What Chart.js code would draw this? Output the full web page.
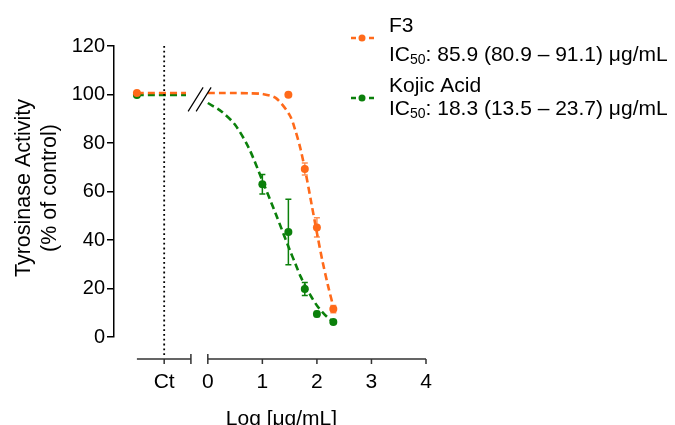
<!DOCTYPE html>
<html lang="en">
<head>
  <meta charset="utf-8">
  <title>Tyrosinase Activity</title>
  <script src="https://cdn.jsdelivr.net/npm/chart.js"></script>
  <style>
    html, body { margin: 0; padding: 0; background: #fff; }
    canvas { display: block; }
  </style>
</head>
<body>
<canvas id="tyrChart" width="675" height="425"></canvas>
<script>
// data
const seriesNames = ['F3', 'Kojic Acid'];
const ic50Text = ['85.9 (80.9 – 91.1) μg/mL', '18.3 (13.5 – 23.7) μg/mL'];
const ctLabel = 'Ct';
const ctX = -1.3;            // where the control points sit on the left piece
const ctTickX = -0.8;        // Ct tick
const ctAxisEnd = -0.31;
const ctLineEnd = -0.4;
const xTicks = [0, 1, 2, 3, 4];
const yTicks = [0, 20, 40, 60, 80, 100, 120];

const f3Ct = 100.6;
const kojicCt = 99.8;

const f3X = [1.477, 1.778, 2.0, 2.301];
const f3Y = [99.9, 69.3, 45.2, 11.5];
const f3Err = [0, 2.5, 4, 1.5];

const kojicX = [1.0, 1.477, 1.778, 2.0, 2.301];
const kojicY = [63.0, 43.3, 19.8, 9.5, 6.2];
const kojicErr = [4, 13.5, 2.7, 1, 0.6];

// fitted curves
const curveX = [0, 0.25, 0.5, 0.75, 1, 1.25, 1.5, 1.6, 1.7, 1.8, 1.9, 2.0, 2.1, 2.2, 2.3];
const f3Curve = [100.6, 100.6, 100.6, 100.5, 100.2, 98.5, 91.5, 85.5, 77.5, 67, 55, 43, 31.5, 21.5, 12.5];
const kojicCurve = [96.5, 93, 87.5, 78, 64.5, 50.5, 36, 30.5, 25, 20.5, 16.5, 13, 10.3, 8, 6.2];

const ORANGE = '#ff6a1a';
const GREEN = '#0b800b';
const FONT = "'Liberation Sans', Arial, sans-serif";

const pts = (xs, ys) => xs.map((v, i) => ({ x: v, y: ys[i] }));

const curveStyle = (color) => ({
  showLine: true, borderColor: color, borderWidth: 2.6, borderDash: [7, 4],
  pointRadius: 0, tension: 0.3, fill: false
});
const dotStyle = (color) => ({
  showLine: false, backgroundColor: color, borderWidth: 0, pointRadius: 4
});

const extras = {
  id: 'extras',
  afterDatasetsDraw(chart) {
    const { ctx, scales: { x, y } } = chart;
    const bars = [[f3X, f3Y, f3Err, 'rgba(255,106,26,0.75)'], [kojicX, kojicY, kojicErr, GREEN]];
    ctx.save();
    ctx.lineWidth = 1.5;
    bars.forEach(([xs, ys, es, col]) => {
      ctx.strokeStyle = col;
      xs.forEach((xv, i) => {
        if (!es[i]) return;
        const px = x.getPixelForValue(xv);
        const t = y.getPixelForValue(ys[i] + es[i]);
        const b = y.getPixelForValue(ys[i] - es[i]);
        ctx.beginPath();
        ctx.moveTo(px, t); ctx.lineTo(px, b);
        ctx.moveTo(px - 3, t); ctx.lineTo(px + 3, t);
        ctx.moveTo(px - 3, b); ctx.lineTo(px + 3, b);
        ctx.stroke();
      });
    });
    ctx.restore();
  },
  afterDraw(chart) {
    const { ctx, chartArea, scales: { x, y } } = chart;
    const axisY = y.getPixelForValue(0) + 22;
    ctx.save();

    // dotted line at control
    const cx = x.getPixelForValue(ctTickX);
    ctx.strokeStyle = '#000';
    ctx.lineWidth = 1.8;
    ctx.setLineDash([1.8, 3]);
    ctx.beginPath();
    ctx.moveTo(cx, chartArea.top);
    ctx.lineTo(cx, axisY - 2);
    ctx.stroke();
    ctx.setLineDash([]);

    // break marks on the curves
    const bx = x.getPixelForValue(-0.15), by = y.getPixelForValue(98);
    ctx.lineWidth = 1.2;
    ctx.beginPath();
    [-4, 4].forEach(o => {
      ctx.moveTo(bx + o - 7.5, by + 12);
      ctx.lineTo(bx + o + 7.5, by - 12);
    });
    ctx.stroke();

    // broken x axis
    ctx.strokeStyle = '#333';
    ctx.lineWidth = 1.5;
    const l0 = x.getPixelForValue(ctX), l1 = x.getPixelForValue(ctAxisEnd);
    const r0 = x.getPixelForValue(xTicks[0]), r1 = x.getPixelForValue(xTicks[xTicks.length - 1]);
    ctx.beginPath();
    ctx.moveTo(l0, axisY); ctx.lineTo(l1, axisY);
    ctx.moveTo(l1, axisY - 5); ctx.lineTo(l1, axisY + 5);
    ctx.moveTo(cx, axisY); ctx.lineTo(cx, axisY + 5);
    ctx.moveTo(r0, axisY); ctx.lineTo(r1, axisY);
    ctx.moveTo(r0, axisY - 5); ctx.lineTo(r0, axisY + 5);
    xTicks.forEach(t => {
      const p = x.getPixelForValue(t);
      ctx.moveTo(p, axisY); ctx.lineTo(p, axisY + 5);
    });
    ctx.stroke();

    ctx.fillStyle = '#000';
    ctx.font = '21px ' + FONT;
    ctx.textAlign = 'center';
    ctx.textBaseline = 'alphabetic';
    ctx.fillText(ctLabel, cx, axisY + 29);
    xTicks.forEach(t => ctx.fillText(String(t), x.getPixelForValue(t), axisY + 29));
    ctx.fillText('Log [μg/mL]', (l0 + r1) / 2, axisY + 66);

    // y title
    ctx.save();
    ctx.translate(29.5, 188);
    ctx.rotate(-Math.PI / 2);
    ctx.font = '21.5px ' + FONT;
    ctx.fillText('Tyrosinase Activity', 0, 0);
    ctx.fillText('(% of control)', 0, 26);
    ctx.restore();

    // legend
    const rows = [[ORANGE, 32, 61, 38], [GREEN, 92, 115, 98]];
    rows.forEach(([col, b1, b2, my], i) => {
      ctx.strokeStyle = col;
      ctx.fillStyle = col;
      ctx.lineWidth = 2.6;
      ctx.setLineDash([5, 4]);
      ctx.beginPath();
      ctx.moveTo(351, my); ctx.lineTo(376, my);
      ctx.stroke();
      ctx.setLineDash([]);
      ctx.beginPath();
      ctx.arc(362, my, 3.5, 0, Math.PI * 2);
      ctx.fill();

      ctx.fillStyle = '#000';
      ctx.textAlign = 'left';
      ctx.font = '21px ' + FONT;
      ctx.fillText(seriesNames[i], 389, b1);
      ctx.fillText('IC', 389, b2);
      let px = 389 + ctx.measureText('IC').width;
      ctx.font = '14px ' + FONT;
      ctx.fillText('50', px, b2 + 3);
      px += ctx.measureText('50').width;
      ctx.font = '21px ' + FONT;
      ctx.fillText(': ' + ic50Text[i], px, b2);
    });
    ctx.restore();
  }
};

new Chart(document.getElementById('tyrChart'), {
  type: 'scatter',
  data: {
    datasets: [
      { label: 'F3', data: pts(f3X, f3Y), ...dotStyle(ORANGE) },
      { label: 'Kojic Acid', data: pts(kojicX, kojicY), ...dotStyle(GREEN) },
      { label: 'F3 Ct', data: [{ x: ctX, y: f3Ct }], ...dotStyle(ORANGE) },
      { label: 'Kojic Ct', data: [{ x: ctX, y: kojicCt }], ...dotStyle(GREEN) },
      { label: 'F3 ct line', data: [{ x: ctX, y: f3Ct }, { x: ctLineEnd, y: f3Ct }], ...curveStyle(ORANGE) },
      { label: 'Kojic ct line', data: [{ x: ctX, y: kojicCt }, { x: ctLineEnd, y: kojicCt }], ...curveStyle(GREEN) },
      { label: 'F3 fit', data: pts(curveX, f3Curve), ...curveStyle(ORANGE) },
      { label: 'Kojic fit', data: pts(curveX, kojicCurve), ...curveStyle(GREEN) }
    ]
  },
  options: {
    animation: false,
    responsive: false,
    layout: { padding: { top: 46, right: 249, bottom: 88, left: 0 } },
    plugins: { legend: { display: false }, tooltip: { enabled: false } },
    scales: {
      x: { type: 'linear', display: false, min: -1.72, max: 4 },
      y: {
        min: 0, max: 120,
        afterFit: s => { s.width = 114; },
        afterBuildTicks: s => { s.ticks = yTicks.map(v => ({ value: v })); },
        ticks: { color: '#000', font: { size: 20, family: FONT }, padding: 2 },
        grid: { drawOnChartArea: false, color: '#000', tickLength: 7, lineWidth: 1.5 },
        border: { color: '#000', width: 1.5 }
      }
    }
  },
  plugins: [extras]
});
</script>
</body>
</html>
